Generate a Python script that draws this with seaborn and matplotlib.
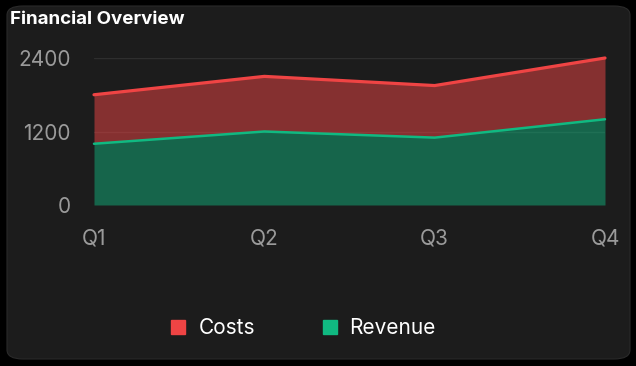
import matplotlib.pyplot as plt
import seaborn as sns
from matplotlib.lines import Line2D
from matplotlib.patches import FancyBboxPatch

# ---------------------------------------------------------------------------
# Data
# ---------------------------------------------------------------------------
quarters = ["Q1", "Q2", "Q3", "Q4"]
revenue = [1000, 1200, 1100, 1400]
costs = [800, 900, 850, 1000]  # stacked on top of revenue
y_ticks = [0, 1200, 2400]

RED = "#ef4444"
GREEN = "#10b981"
CARD = "#1c1c1c"
TICK = "#9a9a9a"

sns.set_theme(style="dark")
plt.rcParams["font.family"] = ["Inter", "DejaVu Sans"]

fig = plt.figure(figsize=(6.36, 3.66), dpi=100, facecolor="black")

# rounded card behind everything
card = FancyBboxPatch((7 / 636, 7 / 366), 623 / 636, 353 / 366,
                      boxstyle="round,pad=0,rounding_size=0.025",
                      transform=fig.transFigure, facecolor=CARD,
                      edgecolor="#2a2a2a", linewidth=0.8, zorder=-10)
fig.patches.append(card)

ax = fig.add_axes([94 / 636, 1 - 205 / 366, 511 / 636, 147 / 366])
ax.set_zorder(1)
ax.patch.set_alpha(0)

x = list(range(len(quarters)))
total = [r + c for r, c in zip(revenue, costs)]

# stacked areas
ax.fill_between(x, 0, revenue, color=GREEN, alpha=0.47, linewidth=0, zorder=2)
ax.fill_between(x, revenue, total, color=RED, alpha=0.5, linewidth=0, zorder=2)

# outlines via seaborn
sns.lineplot(x=x, y=revenue, ax=ax, color=GREEN, linewidth=1.8, zorder=3)
sns.lineplot(x=x, y=total, ax=ax, color=RED, linewidth=2.3, zorder=3)
for ln in ax.lines:
    ln.set_clip_on(False)

ax.set_xlim(0, 3)
ax.set_ylim(0, 2400)
ax.set_xticks(x)
ax.set_xticklabels(quarters)
ax.set_yticks(y_ticks)
ax.set_yticklabels([str(v) for v in y_ticks])
ax.tick_params(axis="both", colors=TICK, labelsize=15, length=0)
ax.tick_params(axis="x", pad=17)
ax.tick_params(axis="y", pad=17)
for s in ax.spines.values():
    s.set_visible(False)

ax.grid(False)
for v in y_ticks[1:]:
    ax.axhline(v, color="#2e2e2e", linewidth=1, zorder=1.5)

# title
fig.text(10 / 636, 1 - 11 / 366, "Financial Overview", color="white",
         fontsize=13.5, fontweight="bold", ha="left", va="top")

# legend at the bottom
handles = [
    Line2D([], [], marker="s", linestyle="", markersize=9.5, color=RED),
    Line2D([], [], marker="s", linestyle="", markersize=9.5, color=GREEN),
]
leg = fig.legend(handles, ["Costs", "Revenue"], loc="center",
                 bbox_to_anchor=(302 / 636, 1 - 328 / 366), ncol=2,
                 frameon=False, fontsize=15, handletextpad=0.45,
                 columnspacing=3.1, handlelength=1.0)
for t in leg.get_texts():
    t.set_color("white")

fig.savefig("out.png", dpi=100, facecolor="black")
